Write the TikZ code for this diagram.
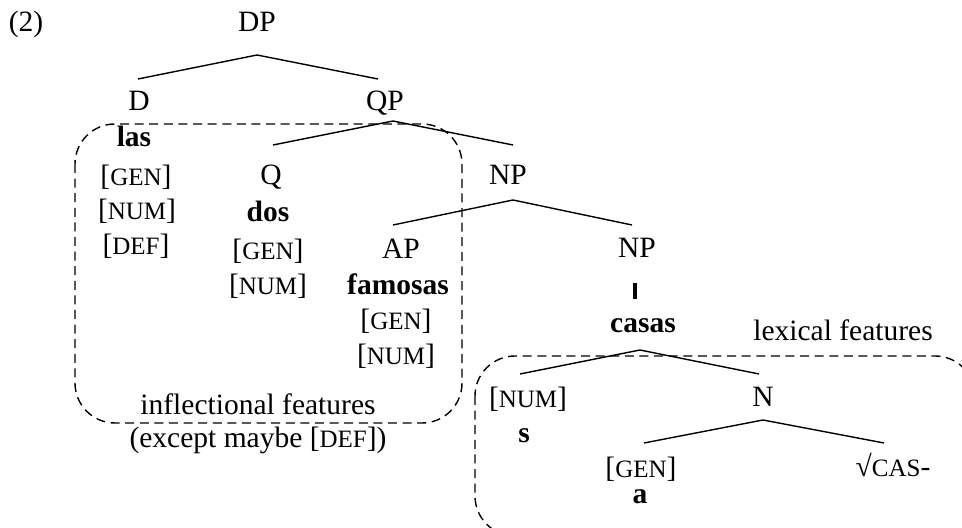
\documentclass[tikz,border=0pt]{standalone}
\usepackage{fontspec}
\setmainfont{Liberation Serif}
\usetikzlibrary{calc}
\newcommand{\fsc}[1]{{\fontsize{12.5pt}{14pt}\selectfont #1}}
\newcommand{\ft}[1]{[\fsc{#1}]}
\begin{document}
\begin{tikzpicture}[x=0.5pt,y=-0.5pt,
  lbl/.style={anchor=base, inner sep=0pt, font=\fontsize{14.75pt}{17pt}\selectfont},
  edge/.style={line width=0.7pt},
  barline/.style={line width=2pt},
  box/.style={line width=0.7pt, dash pattern=on 4.5pt off 2.8pt, rounded corners=20pt}]
\useasboundingbox (0,0) rectangle (962,528);
\clip (0,0) rectangle (962,528);
\node[lbl] (ex) at (26,32) {(2)};
\node[lbl] (dp) at (257,32) {DP};
\node[lbl] (d) at (139,111) {D};
\node[lbl] (qp) at (385,111) {QP};
\node[lbl] (las) at (134,147) {\textbf{las}};
\node[lbl] (dgen) at (136,186) {\ft{GEN}};
\node[lbl] (dnum) at (137,220) {\ft{NUM}};
\node[lbl] (ddef) at (136,255) {\ft{DEF}};
\node[lbl] (q) at (271,185) {Q};
\node[lbl] (dos) at (268,222) {\textbf{dos}};
\node[lbl] (qgen) at (268,260) {\ft{GEN}};
\node[lbl] (qnum) at (268,295) {\ft{NUM}};
\node[lbl] (npu) at (508,185) {NP};
\node[lbl] (ap) at (401,259) {AP};
\node[lbl] (fam) at (398,295) {\textbf{famosas}};
\node[lbl] (agen) at (396,330) {\ft{GEN}};
\node[lbl] (anum) at (396,365) {\ft{NUM}};
\node[lbl] (npl) at (637,258) {NP};
\node[lbl] (casas) at (643,333) {\textbf{casas}};
\node[lbl] (lex) at (843,341) {lexical features};
\node[lbl] (nnum) at (528,408) {\ft{NUM}};
\node[lbl] (s) at (524,443) {\textbf{s}};
\node[lbl] (n) at (763,407) {N};
\node[lbl] (ngen) at (641,477) {\ft{GEN}};
\node[lbl] (a) at (640,503) {\textbf{a}};
\node[lbl] (root) at (893,476) {√\fsc{CAS}-};
\node[lbl] (infl) at (258,415) {inflectional features};
\node[lbl] (exc) at (258,447) {(except maybe \ft{DEF})};
\draw[edge] ($(d.base)+(-1,-32)$) -- ($(dp.base)+(0,23)$) -- ($(qp.base)+(-7,-32)$);
\draw[edge] ($(q.base)+(2,-40)$) -- ($(qp.base)+(8,10)$) -- ($(npu.base)+(5,-40)$);
\draw[edge] ($(ap.base)+(-8,-34)$) -- ($(npu.base)+(5,15)$) -- ($(npl.base)+(-5,-33)$);
\draw[barline] ($(npl.base)+(-2,25)$) -- ($(casas.base)+(-8,-34)$);
\draw[edge] ($(nnum.base)+(-8,-34)$) -- ($(casas.base)+(-3,17)$) -- ($(n.base)+(-4,-33)$);
\draw[edge] ($(ngen.base)+(3,-34)$) -- ($(n.base)+(0,13)$) -- ($(root.base)+(-9,-33)$);
\draw[box] (75,124) rectangle (462,423);
\draw[box] (475,356) rectangle (975,536);
\end{tikzpicture}
\end{document}
